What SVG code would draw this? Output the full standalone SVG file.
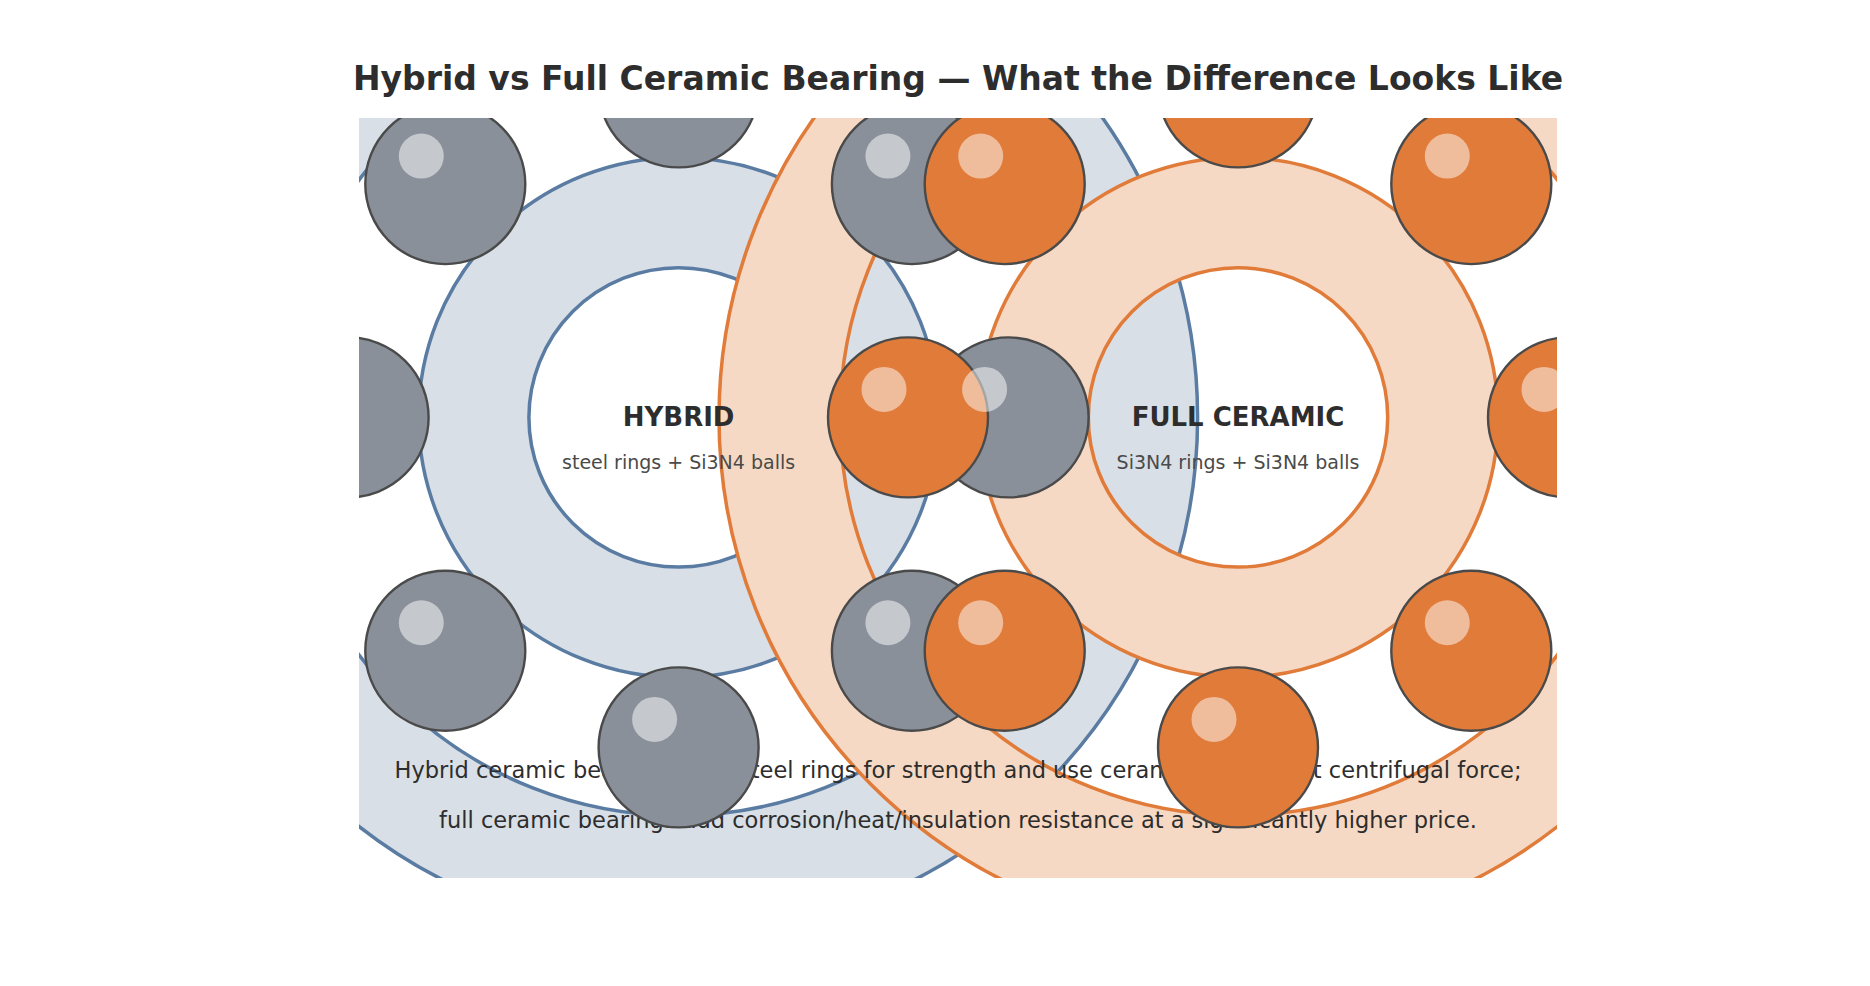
<svg xmlns="http://www.w3.org/2000/svg" width="1870" height="986" viewBox="0 0 1870 986">
<style>
.t{font-family:"DejaVu Sans","Liberation Sans",sans-serif;fill:#2d2d2d;text-anchor:middle}
.title{font-size:33px;font-weight:bold}
.lbl{font-size:26px;font-weight:bold}
.sub{font-size:19px;fill:#4a4a4a}
.cap{font-size:22.5px}
.rb{fill:#d8dfe6;stroke:#5a7ca3;stroke-width:3.5;fill-rule:evenodd}
.ro{fill:#f6d9c4;stroke:#e07b39;stroke-width:3.5;fill-rule:evenodd}
.bg{fill:#8a909a;stroke:#4a4a4a;stroke-width:2.4}
.bo{fill:#e07b39;stroke:#4a4a4a;stroke-width:2.4}
.hl{fill:#fff;opacity:0.5}
</style>
<defs><clipPath id="c"><rect x="359" y="118" width="1198" height="760"/></clipPath></defs>
<rect width="1870" height="986" fill="#fff"/>
<text class="t title" x="958" y="90">Hybrid vs Full Ceramic Bearing — What the Difference Looks Like</text>
<g clip-path="url(#c)">
<g id="rings">
<path id="hybrid-outer" class="rb" d="M159.6,417.4a519,519 0 1 0 1038,0a519,519 0 1 0 -1038,0ZM280.6,417.4a398,398 0 1 0 796,0a398,398 0 1 0 -796,0Z"/>
<path id="hybrid-inner" class="rb" d="M418.6,417.4a260,260 0 1 0 520,0a260,260 0 1 0 -520,0ZM528.9,417.4a149.7,149.7 0 1 0 299.4,0a149.7,149.7 0 1 0 -299.4,0Z"/>
<path id="ceramic-outer" class="ro" d="M719,417.4a519,519 0 1 0 1038,0a519,519 0 1 0 -1038,0ZM840,417.4a398,398 0 1 0 796,0a398,398 0 1 0 -796,0Z"/>
<path id="ceramic-inner" class="ro" d="M978,417.4a260,260 0 1 0 520,0a260,260 0 1 0 -520,0ZM1088.3,417.4a149.7,149.7 0 1 0 299.4,0a149.7,149.7 0 1 0 -299.4,0Z"/>
</g>
<g id="labels">
<text class="t lbl" x="678.6" y="426">HYBRID</text>
<text class="t sub" x="678.6" y="469">steel rings + Si3N4 balls</text>
<text class="t lbl" x="1238" y="426">FULL CERAMIC</text>
<text class="t sub" x="1238" y="469">Si3N4 rings + Si3N4 balls</text>
<text class="t cap" x="958" y="778">Hybrid ceramic bearings keep steel rings for strength and use ceramic balls to cut centrifugal force;</text>
<text class="t cap" x="958" y="828">full ceramic bearings add corrosion/heat/insulation resistance at a significantly higher price.</text>
</g>
<g id="hybrid-balls">
<circle class="bg" cx="678.6" cy="87.4" r="80"/><circle class="bg" cx="445.3" cy="184.1" r="80"/><circle class="bg" cx="911.9" cy="184.1" r="80"/><circle class="bg" cx="348.6" cy="417.4" r="80"/><circle class="bg" cx="1008.6" cy="417.4" r="80"/><circle class="bg" cx="445.3" cy="650.7" r="80"/><circle class="bg" cx="911.9" cy="650.7" r="80"/><circle class="bg" cx="678.6" cy="747.4" r="80"/>
</g>
<g id="ceramic-balls">
<circle class="bo" cx="1238" cy="87.4" r="80"/><circle class="bo" cx="1004.7" cy="184.1" r="80"/><circle class="bo" cx="1471.3" cy="184.1" r="80"/><circle class="bo" cx="908" cy="417.4" r="80"/><circle class="bo" cx="1568" cy="417.4" r="80"/><circle class="bo" cx="1004.7" cy="650.7" r="80"/><circle class="bo" cx="1471.3" cy="650.7" r="80"/><circle class="bo" cx="1238" cy="747.4" r="80"/>
</g>
<g id="highlights">
<circle class="hl" cx="654.6" cy="59.4" r="22.5"/><circle class="hl" cx="421.3" cy="156.1" r="22.5"/><circle class="hl" cx="887.9" cy="156.1" r="22.5"/><circle class="hl" cx="324.6" cy="389.4" r="22.5"/><circle class="hl" cx="984.6" cy="389.4" r="22.5"/><circle class="hl" cx="421.3" cy="622.7" r="22.5"/><circle class="hl" cx="887.9" cy="622.7" r="22.5"/><circle class="hl" cx="654.6" cy="719.4" r="22.5"/>
<circle class="hl" cx="1214" cy="59.4" r="22.5"/><circle class="hl" cx="980.7" cy="156.1" r="22.5"/><circle class="hl" cx="1447.3" cy="156.1" r="22.5"/><circle class="hl" cx="884" cy="389.4" r="22.5"/><circle class="hl" cx="1544" cy="389.4" r="22.5"/><circle class="hl" cx="980.7" cy="622.7" r="22.5"/><circle class="hl" cx="1447.3" cy="622.7" r="22.5"/><circle class="hl" cx="1214" cy="719.4" r="22.5"/>
</g>
</g>
</svg>
